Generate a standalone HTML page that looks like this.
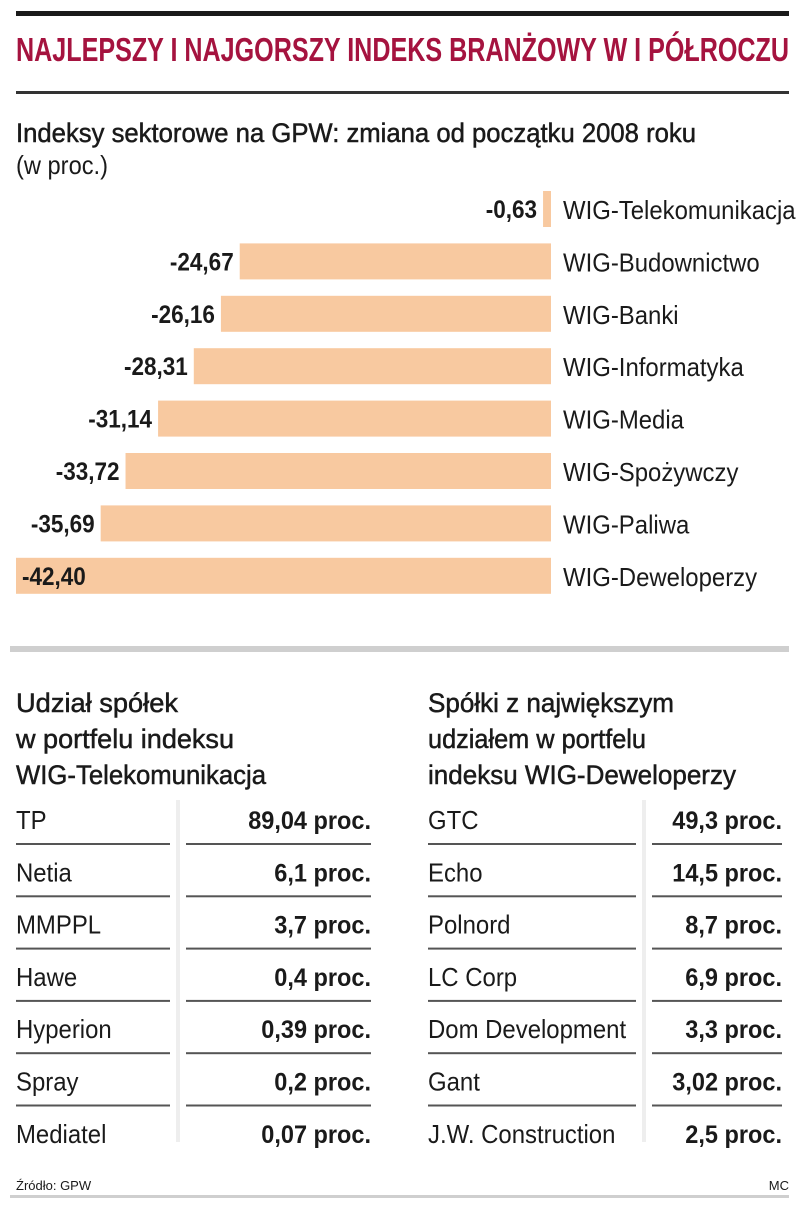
<!DOCTYPE html>
<html><head><meta charset="utf-8"><style>
html,body{margin:0;padding:0;background:#fff;}
svg{display:block;font-family:"Liberation Sans Narrow","Liberation Sans",sans-serif;}
.med{stroke:#1a1a1a;stroke-width:0.5;}
</style></head><body>
<svg id="chart" width="805" height="1210" viewBox="0 0 805 1210" xmlns="http://www.w3.org/2000/svg">
<rect x="16" y="11" width="773" height="5" fill="#1a1a1a"/>
<text x="16" y="61" font-size="33" font-weight="bold" fill="#a5133f" textLength="773" lengthAdjust="spacingAndGlyphs">NAJLEPSZY I NAJGORSZY INDEKS BRANŻOWY W I PÓŁROCZU</text>
<rect x="16" y="91" width="773" height="3" fill="#333"/>
<text class="med" x="16" y="142" font-size="27" fill="#1a1a1a" textLength="680" lengthAdjust="spacingAndGlyphs">Indeksy sektorowe na GPW: zmiana od początku 2008 roku</text>
<text x="16" y="174" font-size="26" fill="#1a1a1a" textLength="92" lengthAdjust="spacingAndGlyphs">(w proc.)</text>
<g id="bars"></g>
<rect x="10" y="646" width="779" height="6" fill="#cfcfcf"/>
<g class="med" font-size="27" fill="#1a1a1a">
<text x="16" y="712" textLength="162" lengthAdjust="spacingAndGlyphs">Udział spółek</text>
<text x="16" y="748" textLength="218" lengthAdjust="spacingAndGlyphs">w portfelu indeksu</text>
<text x="16" y="784" textLength="250" lengthAdjust="spacingAndGlyphs">WIG-Telekomunikacja</text>
</g>
<g class="med" font-size="27" fill="#1a1a1a">
<text x="428" y="712" textLength="246" lengthAdjust="spacingAndGlyphs">Spółki z największym</text>
<text x="428" y="748" textLength="218" lengthAdjust="spacingAndGlyphs">udziałem w portfelu</text>
<text x="428" y="784" textLength="308" lengthAdjust="spacingAndGlyphs">indeksu WIG-Deweloperzy</text>
</g>
<g id="tables"></g>
<text x="16" y="1190" font-size="13" fill="#1a1a1a">Źródło: GPW</text>
<text x="789" y="1190" font-size="13" fill="#1a1a1a" text-anchor="end">MC</text>
<rect x="10" y="1195" width="779" height="3" fill="#cfcfcf"/>
</svg>
<script>
const categories=["WIG-Telekomunikacja","WIG-Budownictwo","WIG-Banki","WIG-Informatyka","WIG-Media","WIG-Spożywczy","WIG-Paliwa","WIG-Deweloperzy"];
const values=[-0.63,-24.67,-26.16,-28.31,-31.14,-33.72,-35.69,-42.40];
const leftNames=["TP","Netia","MMPPL","Hawe","Hyperion","Spray","Mediatel"];
const leftValues=["89,04","6,1","3,7","0,4","0,39","0,2","0,07"];
const rightNames=["GTC","Echo","Polnord","LC Corp","Dom Development","Gant","J.W. Construction"];
const rightValues=["49,3","14,5","8,7","6,9","3,3","3,02","2,5"];

const NS="http://www.w3.org/2000/svg";
function mk(tag,attrs,txt){const e=document.createElementNS(NS,tag);for(const k in attrs)e.setAttribute(k,attrs[k]);if(txt!=null)e.textContent=txt;return e;}
function squeeze(el,f){const w=el.getComputedTextLength();el.setAttribute('textLength',(w*f).toFixed(1));el.setAttribute('lengthAdjust','spacingAndGlyphs');}
const zeroX=551, minV=-42.4, leftX=16;
function xScale(v){return zeroX+(v/ -minV)*(zeroX-leftX);}
function yBand(i){return 209+i*52.4;}
const fmt=v=>v.toFixed(2).replace('.',',');
const bars=document.getElementById('bars');
values.forEach((v,i)=>{
  const cy=yBand(i), x0=xScale(v);
  const r=mk('rect',{x:x0,y:cy-18,width:zeroX-x0,height:36,fill:'#f8c9a0'});
  
  
  bars.appendChild(r);
  const inside = (zeroX-x0)>500;
  const t=mk('text',{x:inside?x0+6:x0-6,y:cy+9,'font-size':25,'font-weight':'bold',fill:'#1a1a1a','text-anchor':inside?'start':'end'},fmt(v));
  
  
  bars.appendChild(t);
  squeeze(t,0.9);
  const c=mk('text',{x:563,y:cy+10,'font-size':26,fill:'#1a1a1a'},categories[i]);
  
  
  bars.appendChild(c);
  squeeze(c,0.92);
});
const tables=document.getElementById('tables');
function table(names,vals,nx,lineEnd,vx,vStart,vEnd){
  const vl=mk('rect',{x:vx-2,y:800,width:4,height:342,fill:'#eeeeee'});
  
  
  tables.appendChild(vl);
  names.forEach((n,i)=>{
    const by=829+i*52.3;
    const a=mk('text',{x:nx,y:by,'font-size':26,fill:'#1a1a1a'},n);
    
    
    tables.appendChild(a);
    squeeze(a,0.92);
    const b=mk('text',{x:vEnd,y:by,'font-size':25,'font-weight':'bold',fill:'#1a1a1a','text-anchor':'end'},vals[i]+' proc.');
    
    
    tables.appendChild(b);
    squeeze(b,0.94);
    if(i<names.length-1){
      const ly=by+14;
      const l1=mk('rect',{x:nx,y:ly,width:lineEnd-nx,height:2,fill:'#555'});
      
      
      tables.appendChild(l1);
      const l2=mk('rect',{x:vStart,y:ly,width:vEnd-vStart,height:2,fill:'#555'});
      
      
      tables.appendChild(l2);
    }
  });
}
table(leftNames,leftValues,16,170,178,186,371);
table(rightNames,rightValues,428,636,644,652,782);
</script>
</body></html>
